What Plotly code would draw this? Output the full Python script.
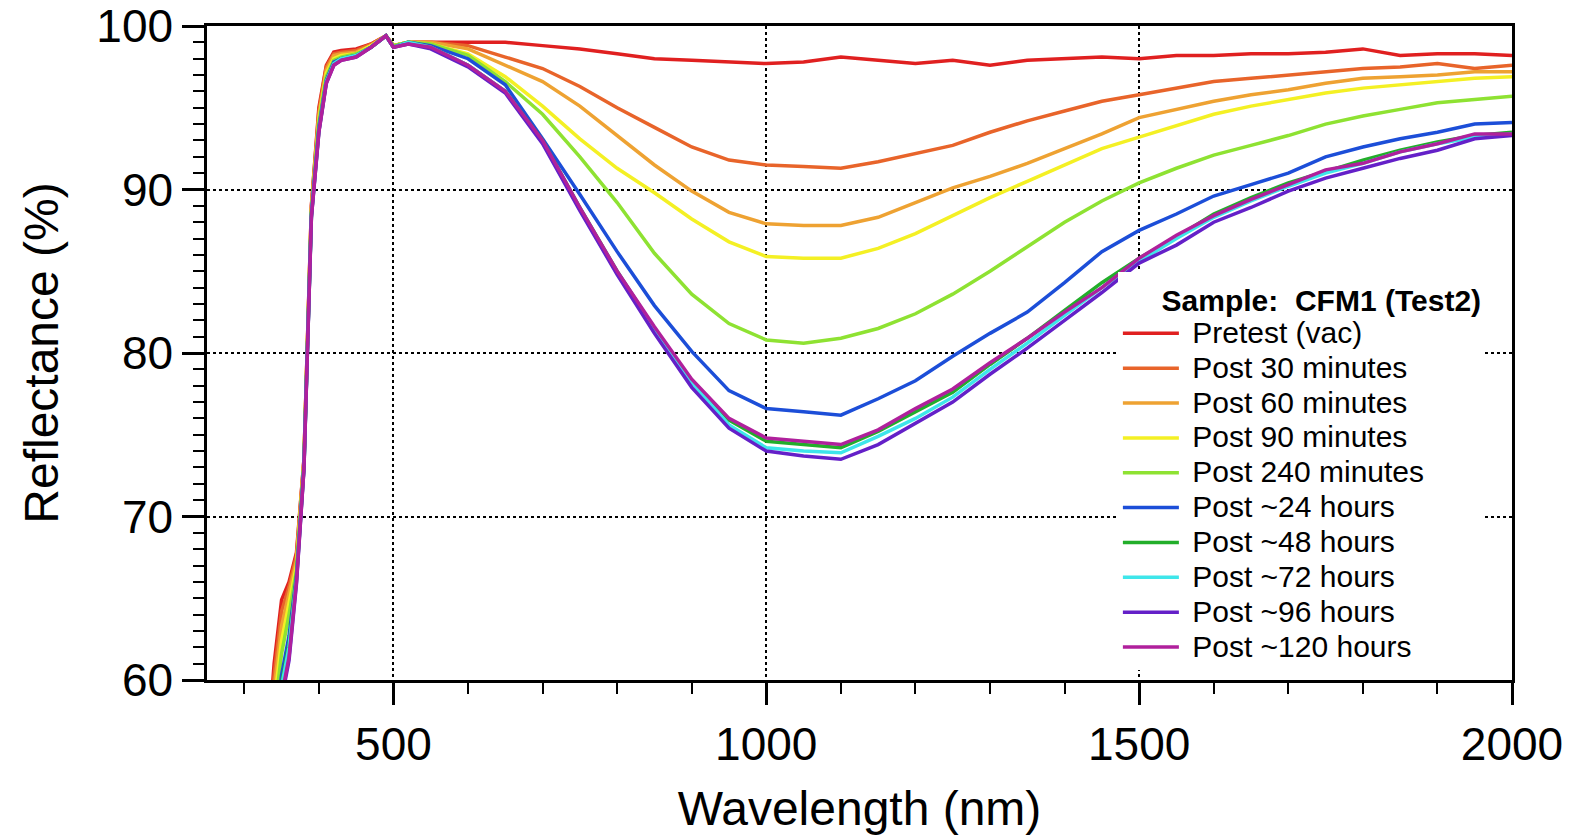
import plotly.graph_objects as go

# Wavelength grid (nm)
wavelength = [330, 340, 350, 360, 370, 380, 390, 400, 410, 420, 430, 450, 470, 490, 500, 520,
              550, 600, 650, 700, 750, 800, 850, 900, 950, 1000, 1050, 1100, 1150, 1200, 1250,
              1300, 1350, 1400, 1450, 1500, 1550, 1600, 1650, 1700, 1750, 1800, 1850, 1900, 1950, 2000]

series_names = ["Pretest (vac)", "Post 30 minutes", "Post 60 minutes", "Post 90 minutes",
                "Post 240 minutes", "Post ~24 hours", "Post ~48 hours", "Post ~72 hours",
                "Post ~96 hours", "Post ~120 hours"]

series_colors = ["#e02020", "#e8642a", "#eea232", "#f4f024", "#8ee232",
                 "#1c4ed8", "#22ae2a", "#3ee6ea", "#6420c8", "#b0209c"]

pretest = [55.0, 61.0, 64.9, 66.0, 67.8, 73.5, 89.0, 95.0, 97.6, 98.4, 98.5, 98.6, 98.9, 99.4, 98.8, 99.0,
           99.0, 99.0, 99.0, 98.8, 98.6, 98.3, 98.0, 97.9, 97.8, 97.7, 97.8, 98.1, 97.9, 97.7, 97.9,
           97.6, 97.9, 98.0, 98.1, 98.0, 98.2, 98.2, 98.3, 98.3, 98.4, 98.6, 98.2, 98.3, 98.3, 98.2]
post_30m = [54.0, 60.3, 64.2, 65.7, 67.6, 73.5, 89.0, 94.8, 97.5, 98.3, 98.4, 98.5, 98.9, 99.4, 98.8, 99.0,
            99.0, 98.8, 98.1, 97.4, 96.3, 95.0, 93.8, 92.6, 91.8, 91.5, 91.4, 91.3, 91.7, 92.2, 92.7,
            93.5, 94.2, 94.8, 95.4, 95.8, 96.2, 96.6, 96.8, 97.0, 97.2, 97.4, 97.5, 97.7, 97.4, 97.6]
post_60m = [53.0, 59.5, 63.3, 65.2, 67.3, 73.4, 88.8, 94.5, 97.3, 98.2, 98.3, 98.4, 98.8, 99.4, 98.8, 99.0,
            99.0, 98.6, 97.6, 96.6, 95.1, 93.3, 91.5, 89.9, 88.6, 87.9, 87.8, 87.8, 88.3, 89.2, 90.1,
            90.8, 91.6, 92.5, 93.4, 94.4, 94.9, 95.4, 95.8, 96.1, 96.5, 96.8, 96.9, 97.0, 97.2, 97.2]
post_90m = [52.0, 58.6, 62.4, 64.6, 67.0, 73.3, 88.7, 94.3, 97.1, 98.0, 98.2, 98.3, 98.8, 99.4, 98.8, 99.0,
            98.9, 98.3, 96.9, 95.1, 93.1, 91.3, 89.8, 88.2, 86.8, 85.9, 85.8, 85.8, 86.4, 87.3, 88.4,
            89.5, 90.5, 91.5, 92.5, 93.2, 93.9, 94.6, 95.1, 95.5, 95.9, 96.2, 96.4, 96.6, 96.8, 96.9]
post_240m = [51.0, 57.8, 61.6, 64.0, 66.7, 73.2, 88.6, 94.1, 96.9, 97.9, 98.1, 98.3, 98.7, 99.4, 98.8, 99.0,
             98.9, 98.2, 96.6, 94.6, 92.0, 89.2, 86.1, 83.6, 81.8, 80.8, 80.6, 80.9, 81.5, 82.4, 83.6,
             85.0, 86.5, 88.0, 89.3, 90.4, 91.3, 92.1, 92.7, 93.3, 94.0, 94.5, 94.9, 95.3, 95.5, 95.7]
post_24h = [50.0, 56.5, 60.3, 62.7, 66.4, 73.1, 88.5, 93.8, 96.7, 97.8, 98.0, 98.2, 98.7, 99.4, 98.7, 99.0,
            98.8, 98.0, 96.4, 93.1, 89.7, 86.2, 82.9, 80.1, 77.7, 76.6, 76.4, 76.2, 77.2, 78.3, 79.8,
            81.2, 82.5, 84.3, 86.2, 87.5, 88.5, 89.6, 90.3, 91.0, 92.0, 92.6, 93.1, 93.5, 94.0, 94.1]
post_48h = [50.0, 56.0, 59.8, 62.2, 66.2, 73.0, 88.4, 93.6, 96.6, 97.7, 98.0, 98.2, 98.7, 99.4, 98.7, 99.0,
            98.7, 97.6, 96.0, 93.0, 88.9, 85.0, 81.5, 78.3, 75.9, 74.6, 74.4, 74.2, 75.2, 76.4, 77.6,
            79.3, 80.9, 82.6, 84.3, 85.8, 87.1, 88.5, 89.5, 90.4, 91.1, 91.8, 92.4, 92.9, 93.3, 93.5]
post_72h = [50.0, 55.8, 59.6, 62.0, 66.1, 73.0, 88.4, 93.6, 96.6, 97.7, 98.0, 98.2, 98.7, 99.4, 98.7, 99.0,
            98.7, 97.6, 96.0, 92.9, 88.8, 84.9, 81.4, 78.2, 75.6, 74.2, 74.0, 73.9, 74.9, 76.0, 77.3,
            79.0, 80.6, 82.3, 84.0, 85.6, 87.0, 88.3, 89.3, 90.2, 91.0, 91.6, 92.3, 92.8, 93.2, 93.4]
post_96h = [50.0, 55.0, 58.8, 61.2, 65.9, 72.9, 88.3, 93.5, 96.5, 97.6, 97.9, 98.1, 98.7, 99.4, 98.7, 98.9,
            98.6, 97.5, 95.9, 92.8, 88.7, 84.8, 81.2, 77.9, 75.4, 74.0, 73.7, 73.5, 74.4, 75.7, 77.0,
            78.7, 80.3, 82.0, 83.7, 85.5, 86.6, 88.0, 88.9, 89.9, 90.7, 91.3, 91.9, 92.4, 93.1, 93.3]
post_120h = [50.0, 55.2, 59.0, 61.4, 66.0, 72.9, 88.3, 93.5, 96.5, 97.6, 97.9, 98.1, 98.7, 99.4, 98.7, 98.9,
             98.7, 97.6, 96.0, 93.0, 88.9, 85.0, 81.6, 78.4, 76.0, 74.8, 74.6, 74.4, 75.3, 76.6, 77.8,
             79.4, 80.9, 82.5, 84.0, 85.8, 87.2, 88.4, 89.4, 90.3, 91.2, 91.6, 92.3, 92.8, 93.4, 93.4]

series_values = [pretest, post_30m, post_60m, post_90m, post_240m,
                 post_24h, post_48h, post_72h, post_96h, post_120h]

x_ticks = [500, 1000, 1500, 2000]
y_ticks = [60, 70, 80, 90, 100]

FONT = "Liberation Sans, Arial, Helvetica, sans-serif"

fig = go.Figure()
for name, color, vals in zip(series_names, series_colors, series_values):
    fig.add_trace(go.Scatter(
        x=wavelength, y=vals, mode="lines",
        name=f'<span style="font-size:30px">\u00a0{name}</span>',
        line=dict(color=color, width=3.5),
    ))

axis_common = dict(
    showline=True, linecolor="black", linewidth=2.5, mirror=True,
    ticks="outside", ticklen=22, tickwidth=2.5, tickcolor="black",
    showgrid=True, gridcolor="black", gridwidth=1.5, griddash="dot",
    zeroline=False, automargin=False, ticklabeloverflow="allow",
    tickfont=dict(family=FONT, size=46, color="black"),
)

fig.update_xaxes(
    range=[250, 2000], tickvals=x_ticks,
    minor=dict(ticks="outside", ticklen=11, tickwidth=2, tickcolor="black", dtick=100, tick0=0, showgrid=False),
    title=dict(text="Wavelength (nm)", font=dict(family=FONT, size=48, color="black"), standoff=27),
    **axis_common,
)
fig.update_yaxes(
    range=[60, 100], tickvals=y_ticks,
    minor=dict(ticks="outside", ticklen=11, tickwidth=2, tickcolor="black", dtick=1, tick0=0, showgrid=False),
    title=dict(text="Reflectance (%)", font=dict(family=FONT, size=48, color="black"), standoff=23),
    **axis_common,
)

fig.update_layout(
    width=1576, height=835,
    margin=dict(l=207, r=64, t=26, b=155, autoexpand=False),
    paper_bgcolor="white", plot_bgcolor="white",
    font=dict(family=FONT, color="black"),
    showlegend=True,
    legend=dict(
        x=0.698, y=0.624, xanchor="left", yanchor="top",
        bgcolor="white", borderwidth=0,
        font=dict(family=FONT, size=24.5, color="black"),
        title=dict(text="<b>\u00a0\u00a0\u00a0\u00a0\u00a0Sample:\u00a0\u00a0CFM1 (Test2)</b>",
                   font=dict(family=FONT, size=30, color="black"), side="top"),
        itemwidth=56,
    ),
)

fig.write_html("out.html", config={"displayModeBar": False},
               post_script="document.body.style.margin='0px';")
